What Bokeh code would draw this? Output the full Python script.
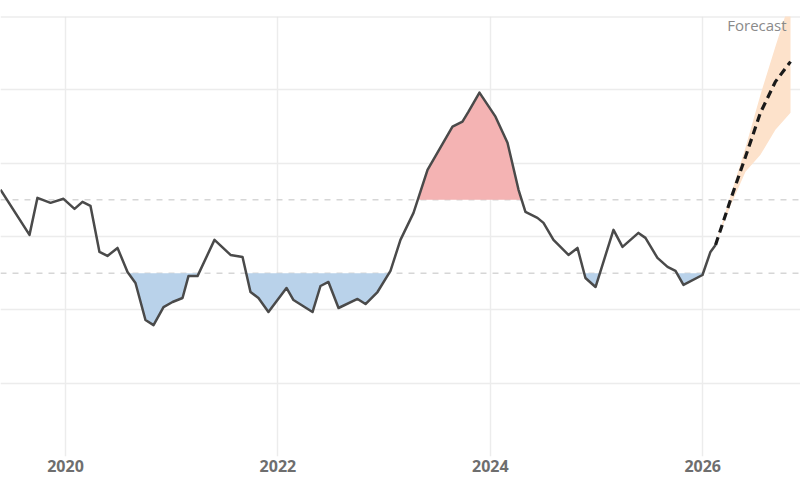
from bokeh.plotting import figure
from bokeh.models import FixedTicker, Span, Label, Range1d
from bokeh.embed import file_html
from bokeh.resources import INLINE

# ---- data (fractional years, index values) ----
years = [2019.388, 2019.661, 2019.736, 2019.859, 2019.981, 2020.085, 2020.160, 2020.235,
         2020.320, 2020.395, 2020.490, 2020.584, 2020.659, 2020.753, 2020.829, 2020.923,
         2021.008, 2021.102, 2021.158, 2021.243, 2021.403, 2021.554, 2021.667, 2021.742,
         2021.817, 2021.911, 2022.081, 2022.147, 2022.326, 2022.401, 2022.476, 2022.571,
         2022.750, 2022.825, 2022.938, 2023.060, 2023.154, 2023.277, 2023.409, 2023.644,
         2023.738, 2023.795, 2023.898, 2024.049, 2024.162, 2024.266, 2024.331, 2024.444,
         2024.501, 2024.595, 2024.736, 2024.821, 2024.896, 2024.991, 2025.160, 2025.245,
         2025.395, 2025.461, 2025.574, 2025.669, 2025.744, 2025.819, 2025.998, 2026.073,
         2026.121]
values = [2.637, 2.022, 2.527, 2.459, 2.514, 2.377, 2.473, 2.418,
          1.790, 1.735, 1.844, 1.516, 1.366, 0.861, 0.792, 1.038,
          1.107, 1.161, 1.460, 1.460, 1.954, 1.749, 1.721, 1.243,
          1.161, 0.970, 1.298, 1.134, 0.970, 1.325, 1.380, 1.025,
          1.148, 1.079, 1.243, 1.530, 1.954, 2.322, 2.910, 3.497,
          3.566, 3.702, 3.962, 3.634, 3.279, 2.637, 2.336, 2.254,
          2.186, 1.954, 1.749, 1.844, 1.434, 1.311, 2.090, 1.858,
          2.049, 1.981, 1.708, 1.585, 1.530, 1.339, 1.475, 1.790,
          1.885]

fc_years = [2026.121, 2026.262, 2026.403, 2026.544, 2026.685, 2026.827]
fc_values = [1.885, 2.500, 3.087, 3.689, 4.112, 4.385]
fc_lower = [1.885, 2.418, 2.883, 3.115, 3.456, 3.689]
fc_upper = [1.885, 2.555, 3.210, 3.934, 4.590, 5.232]

lower_band = 1.5
upper_band = 2.5
shade_from, shade_to = 2020.0, 2026.2
tick_years = [2020, 2022, 2024, 2026]
grid_levels = [0, 1, 2, 3, 4]


def clamp_fill(xs, ys, thr, below):
    """Insert threshold crossings and clamp to the threshold side."""
    px, py = [], []
    for i in range(len(xs)):
        if i > 0:
            x0, y0, x1, y1 = xs[i - 1], ys[i - 1], xs[i], ys[i]
            if (y0 - thr) * (y1 - thr) < 0:
                t = (thr - y0) / (y1 - y0)
                px.append(x0 + t * (x1 - x0))
                py.append(thr)
        px.append(xs[i])
        py.append(ys[i])
    out = []
    for x, y in zip(px, py):
        if x < shade_from or x > shade_to:
            out.append(thr)
        elif below:
            out.append(min(y, thr))
        else:
            out.append(max(y, thr))
    return px, out


p = figure(width=800, height=480, output_backend="svg", toolbar_location=None,
           x_range=Range1d(2019.388, 2026.921), y_range=Range1d(-1.0, 5.0),
           min_border_left=0, min_border_right=0, min_border_top=16, min_border_bottom=24)
p.outline_line_color = None
p.background_fill_color = "white"
p.border_fill_color = "white"

p.yaxis.visible = False
p.xaxis.ticker = FixedTicker(ticks=tick_years)
p.xaxis.axis_line_color = None
p.xaxis.major_tick_line_color = None
p.xaxis.minor_tick_line_color = None
p.xaxis.major_tick_out = 0
p.xaxis.major_tick_in = 0
p.xaxis.major_label_standoff = 3
p.xaxis.major_label_text_font = "Open Sans"
p.xaxis.major_label_text_font_style = "bold"
p.xaxis.major_label_text_font_size = "16px"
p.xaxis.major_label_text_color = "#6e6e6e"

p.xgrid.ticker = FixedTicker(ticks=tick_years)
p.ygrid.ticker = FixedTicker(ticks=grid_levels)
p.xgrid.grid_line_color = "#ececec"
p.ygrid.grid_line_color = "#ececec"
p.xgrid.grid_line_width = 1.5
p.ygrid.grid_line_width = 1.5

p.add_layout(Span(location=5.0, dimension="width", line_color="#e3e3e3", line_width=2, level="underlay"))
for thr in (lower_band, upper_band):
    p.add_layout(Span(location=thr, dimension="width", line_color="#d6d6d6",
                      line_width=1.5, line_dash="6 6", level="underlay"))

bx, by = clamp_fill(years, values, lower_band, True)
p.varea(x=bx, y1=by, y2=[lower_band] * len(bx), fill_color="#b9d2ea", fill_alpha=1.0)
rx, ry = clamp_fill(years, values, upper_band, False)
p.varea(x=rx, y1=[upper_band] * len(rx), y2=ry, fill_color="#f4b3b3", fill_alpha=1.0)

p.varea(x=fc_years, y1=fc_lower, y2=fc_upper, fill_color="#fde2cb", fill_alpha=1.0)

p.line(years, values, line_color="#4a4a4a", line_width=2.5, line_join="round")
p.line(fc_years, fc_values, line_color="#1a1a1a", line_width=3.2, line_dash="8 5")

p.add_layout(Label(x=2026.79, y=4.88, text="Forecast", text_align="right",
                   text_baseline="middle", text_font="Open Sans", text_font_size="15px",
                   text_color="#8a8a8a"))

open("out.html", "w").write(file_html(p, INLINE))
